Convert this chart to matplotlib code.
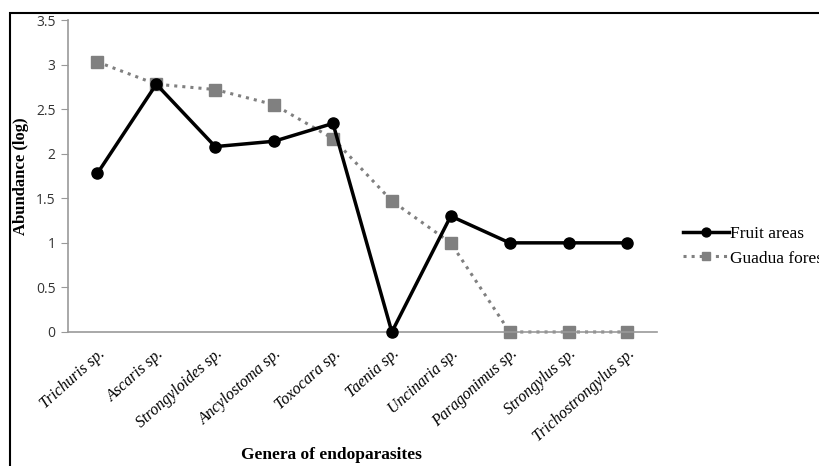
import matplotlib.pyplot as plt
from matplotlib.patches import Rectangle

genera = ['Trichuris sp.', 'Ascaris sp.', 'Strongyloides sp.', 'Ancylostoma sp.',
          'Toxocara sp.', 'Taenia sp.', 'Uncinaria sp.', 'Paragonimus sp.',
          'Strongylus sp.', 'Trichostrongylus sp.']
fruit_areas = [1.78, 2.78, 2.08, 2.14, 2.34, 0, 1.30, 1.0, 1.0, 1.0]
guadua_forest = [3.03, 2.78, 2.72, 2.55, 2.17, 1.47, 1.0, 0, 0, 0]
yticks = [0, 0.5, 1, 1.5, 2, 2.5, 3, 3.5]
ytick_labels = ['0', '0.5', '1', '1.5', '2', '2.5', '3', '3.5']

fig = plt.figure(figsize=(8.19, 4.66), dpi=100)
ax = fig.add_axes([0.083, 0.2876, 0.719, 0.6694])

x = list(range(len(genera)))
ax.plot(x, guadua_forest, color='#808080', linestyle=':', linewidth=2.2,
        marker='s', markersize=8, markerfacecolor='#808080',
        markeredgecolor='#808080', label='Guadua forest', zorder=2)
ax.plot(x, fruit_areas, color='black', linestyle='-', linewidth=2.5,
        marker='o', markersize=8, label='Fruit areas', zorder=3)

ax.set_xlim(-0.5, len(genera) - 0.5)
ax.set_ylim(0, 3.5)
ax.set_yticks(yticks)
ax.set_yticklabels(ytick_labels, fontfamily='Open Sans', fontsize=10, color='#333333')
ax.set_xticks(x)
ax.set_xticklabels(genera, rotation=42, ha='right', rotation_mode='anchor',
                   fontfamily='Liberation Serif', fontstyle='italic', fontsize=11.5)
ax.tick_params(axis='x', length=0, pad=10)
ax.tick_params(axis='y', length=5, color='#999999', direction='out', pad=4)

for s in ['top', 'right']:
    ax.spines[s].set_visible(False)
for s in ['left', 'bottom']:
    ax.spines[s].set_color('#999999')
    ax.spines[s].set_linewidth(1.2)
for ln in ax.lines:
    ln.set_clip_on(False)

# y label sits just inside the outer frame
ax.set_ylabel('Abundance (log)', fontfamily='Liberation Serif', fontweight='bold',
              fontsize=12)
ax.yaxis.set_label_coords(-0.067, 0.5)
fig.text(0.405, 0.006, 'Genera of endoparasites', ha='center', va='bottom',
         fontfamily='Liberation Serif', fontweight='bold', fontsize=12.5)

handles, labels = ax.get_legend_handles_labels()
leg = fig.legend(handles[::-1], labels[::-1], loc='center left',
                 bbox_to_anchor=(0.826, 0.472), frameon=False,
                 prop={'family': 'Liberation Serif', 'size': 12.5},
                 handlelength=2.6, handletextpad=0.1, labelspacing=0.5,
                 borderaxespad=0, markerscale=0.8)

fig.add_artist(Rectangle((0.0128, -0.1), 1.2, 1.072, transform=fig.transFigure,
                         fill=False, edgecolor='black', linewidth=1.5))

fig.savefig('out.png', dpi=100)
